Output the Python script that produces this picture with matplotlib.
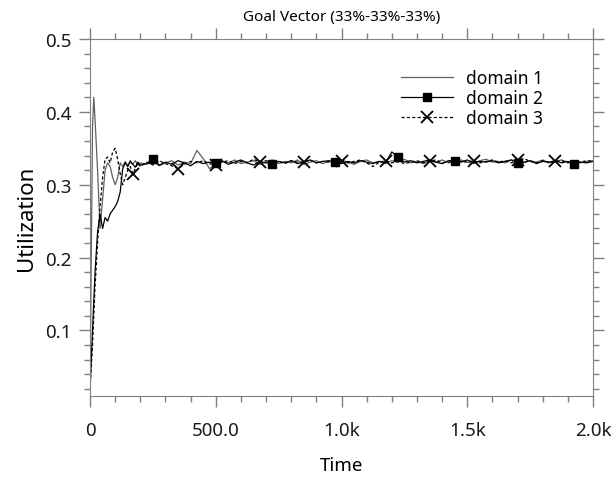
import matplotlib
matplotlib.use('Agg')
import matplotlib.pyplot as plt
from matplotlib.ticker import MultipleLocator
import numpy as np

plt.rcParams['font.family'] = ['Noto Sans', 'DejaVu Sans']

# time grid: dense at the start, coarser later
t_early = [0, 5, 10, 15, 20, 30, 40, 50, 60, 70, 80, 90, 100, 110, 120, 130, 140, 150, 160, 170, 180, 190, 200]
t_late = list(range(225, 2001, 25))
time = np.array(t_early + t_late)

d1_early = [0.02, 0.20, 0.38, 0.42, 0.39, 0.32, 0.24, 0.28, 0.32, 0.33, 0.325, 0.31, 0.30, 0.31, 0.33,
            0.325, 0.332, 0.326, 0.331, 0.328, 0.333, 0.327, 0.330]
d1_late = [0.328, 0.332, 0.326, 0.330, 0.333, 0.327, 0.331, 0.329, 0.347, 0.336, 0.322, 0.328,
           0.332, 0.330, 0.334, 0.329, 0.331, 0.333, 0.328, 0.331, 0.334, 0.329, 0.332, 0.330,
           0.334, 0.328, 0.331, 0.333, 0.329, 0.332, 0.330, 0.334, 0.331, 0.328, 0.332, 0.334,
           0.330, 0.332, 0.329, 0.333, 0.331, 0.335, 0.330, 0.332, 0.329, 0.333, 0.331, 0.334,
           0.330, 0.332, 0.334, 0.331, 0.329, 0.333, 0.335, 0.331, 0.332, 0.330, 0.334, 0.332,
           0.330, 0.333, 0.331, 0.334, 0.330, 0.332, 0.334, 0.331, 0.333, 0.330, 0.332, 0.333]

d2_early = [0.02, 0.06, 0.10, 0.14, 0.18, 0.235, 0.26, 0.24, 0.255, 0.25, 0.26, 0.265, 0.27, 0.277, 0.29,
            0.322, 0.330, 0.325, 0.333, 0.328, 0.324, 0.331, 0.327]
d2_late = [0.329, 0.336, 0.327, 0.331, 0.328, 0.333, 0.330, 0.326, 0.332, 0.329, 0.331, 0.330,
           0.333, 0.328, 0.331, 0.334, 0.330, 0.327, 0.332, 0.330, 0.329, 0.332, 0.330, 0.333,
           0.329, 0.331, 0.334, 0.330, 0.332, 0.333, 0.331, 0.329, 0.332, 0.330, 0.333, 0.331,
           0.329, 0.332, 0.330, 0.345, 0.338, 0.331, 0.333, 0.330, 0.332, 0.334, 0.331, 0.329,
           0.333, 0.333, 0.331, 0.334, 0.330, 0.332, 0.331, 0.333, 0.330, 0.332, 0.334, 0.330,
           0.331, 0.333, 0.329, 0.332, 0.331, 0.333, 0.330, 0.332, 0.328, 0.331, 0.330, 0.332]

d3_early = [0.02, 0.05, 0.08, 0.12, 0.16, 0.22, 0.27, 0.31, 0.335, 0.338, 0.33, 0.345, 0.35, 0.335, 0.315,
            0.30, 0.31, 0.32, 0.325, 0.315, 0.322, 0.330, 0.325]
d3_late = [0.331, 0.327, 0.333, 0.329, 0.326, 0.322, 0.328, 0.332, 0.330, 0.333, 0.329, 0.327,
           0.331, 0.333, 0.329, 0.332, 0.330, 0.335, 0.331, 0.333, 0.330, 0.332, 0.329, 0.333,
           0.331, 0.331, 0.334, 0.330, 0.332, 0.331, 0.329, 0.333, 0.330, 0.332, 0.334, 0.330,
           0.325, 0.331, 0.333, 0.330, 0.332, 0.329, 0.331, 0.333, 0.330, 0.332, 0.334, 0.330,
           0.331, 0.333, 0.332, 0.331, 0.333, 0.330, 0.332, 0.334, 0.331, 0.333, 0.330, 0.334,
           0.336, 0.332, 0.330, 0.333, 0.331, 0.332, 0.333, 0.330, 0.332, 0.331, 0.333, 0.332]

domain1 = np.array(d1_early + d1_late)
domain2 = np.array(d2_early + d2_late)
domain3 = np.array(d3_early + d3_late)

sq_times = [250, 500, 725, 975, 1225, 1450, 1700, 1925]
x_times = [170, 350, 500, 675, 850, 1000, 1175, 1350, 1525, 1700, 1850]

xtick_pos = [0, 500, 1000, 1500, 2000]
xtick_lab = ['0', '500.0', '1.0k', '1.5k', '2.0k']
ytick_pos = [0.1, 0.2, 0.3, 0.4, 0.5]

sq_idx = [int(np.argmin(abs(time - s))) for s in sq_times]
x_idx = [int(np.argmin(abs(time - s))) for s in x_times]

fig = plt.figure(figsize=(6.14, 4.85), dpi=100)
ax = fig.add_axes([0.1466, 0.1814, 0.8192, 0.7361])

ax.plot(time, domain1, color='#606060', lw=0.9, label='domain 1')
ax.plot(time, domain2, color='black', lw=0.9, marker='s', ms=5.5, markevery=sq_idx, label='domain 2')
ax.plot(time, domain3, color='black', lw=0.9, ls=(0, (2.5, 1.8)), marker='x', ms=8.5, mew=1.3,
        markevery=x_idx, label='domain 3')

ax.set_xlim(0, 2000)
ax.set_ylim(0.01, 0.5)
ax.set_xticks(xtick_pos)
ax.set_xticklabels(xtick_lab)
ax.set_yticks(ytick_pos)
ax.xaxis.set_minor_locator(MultipleLocator(100))
ax.yaxis.set_minor_locator(MultipleLocator(0.02))
ax.tick_params(which='both', direction='out', top=True, right=True, color='#808080',
               labelsize=13.5, labelcolor='#1a1a1a')
ax.tick_params(axis='x', pad=10)
ax.tick_params(axis='y', pad=5)
ax.tick_params(which='major', length=8, width=1)
ax.tick_params(which='minor', length=4, width=1)
for s in ax.spines.values():
    s.set_color('#808080')

ax.set_title('Goal Vector (33%-33%-33%)', fontsize=11, pad=14)
ax.set_xlabel('Time', fontsize=13.5, labelpad=12)
ax.set_ylabel('Utilization', fontsize=16, labelpad=6)

ax.legend(loc='upper right', bbox_to_anchor=(0.915, 0.935), frameon=False, fontsize=12.5,
          handlelength=3.0, labelspacing=0.12, handletextpad=0.75, borderaxespad=0)

fig.savefig('out.png', dpi=100)
